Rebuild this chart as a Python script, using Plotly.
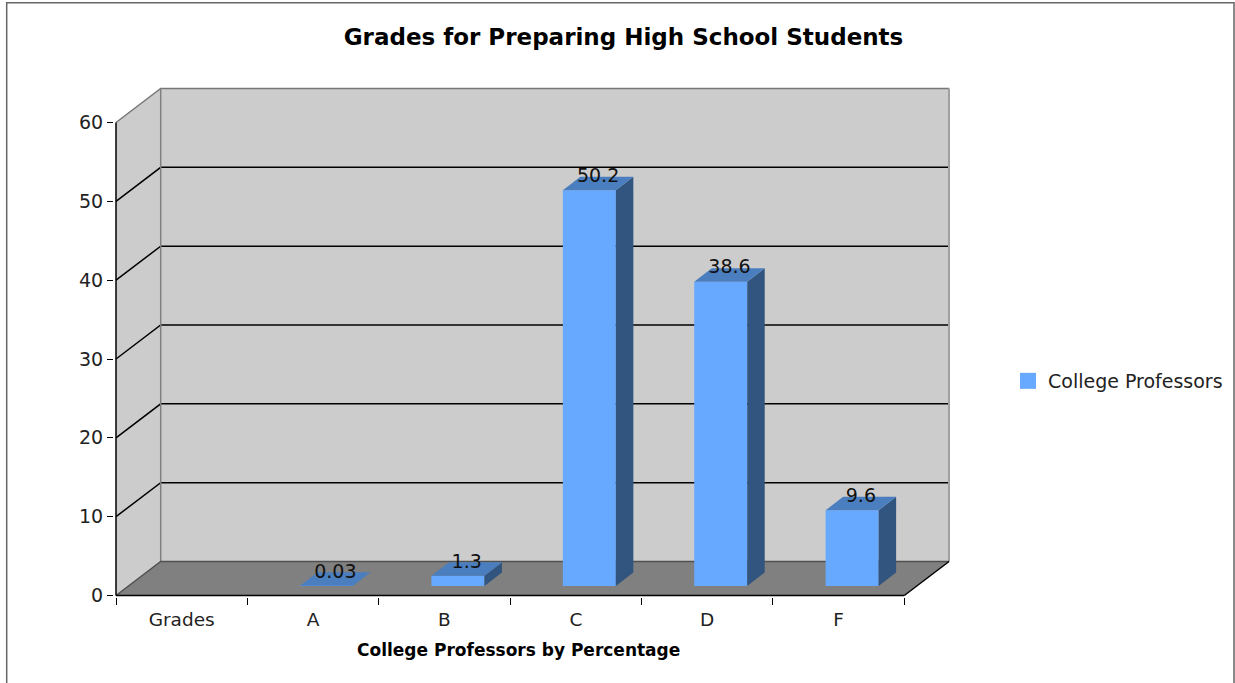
import plotly.graph_objects as go

# ---- data ----
categories = ["Grades", "A", "B", "C", "D", "F"]
values = [None, 0.03, 1.3, 50.2, 38.6, 9.6]
labels = ["", "0.03", "1.3", "50.2", "38.6", "9.6"]
y_ticks = [0, 10, 20, 30, 40, 50, 60]
series_name = "College Professors"
title_text = "Grades for Preparing High School Students"
x_title_text = "College Professors by Percentage"

# ---- styling / geometry ----
W, H = 1235, 683
ORIGIN_X, ORIGIN_Y = 116, 595.5              # pixel position of (0, 0)
PX_LEFT, PX_RIGHT, PX_BOTTOM, PX_TOP = 114, 951, 597, 87  # plot area, slightly larger than the box so lines are not clipped
PX_PER_CAT = (904.3 - 116) / 6
PX_PER_UNIT = (595.5 - 122.5) / 60
DX = 44.7 / PX_PER_CAT     # chart depth, in category units
DY = 34 / PX_PER_UNIT      # chart depth, in value units
BAR_OFF_X = 13.5 / PX_PER_CAT
BAR_BASE = 9.5 / PX_PER_UNIT
BAR_W = 53 / PX_PER_CAT
BAR_DX = 17.5 / PX_PER_CAT
BAR_DY = 13.5 / PX_PER_UNIT
LABEL_UP = 13 / PX_PER_UNIT

WALL, FLOOR, BAR, TOP, SIDE = "#cccccc", "#808080", "#66a9ff", "#4a7ebe", "#31557f"
FONT = "DejaVu Sans"
n = len(categories)
x_range = [(PX_LEFT - ORIGIN_X) / PX_PER_CAT, (PX_RIGHT - ORIGIN_X) / PX_PER_CAT]
y_range = [(ORIGIN_Y - PX_BOTTOM) / PX_PER_UNIT, (ORIGIN_Y - PX_TOP) / PX_PER_UNIT]


def path(pts):
    return "M" + " L".join(f"{a},{b}" for a, b in pts) + " Z"


def data_shape(pts, fill=None, line=None, width=1, closed=True):
    p = path(pts) if closed else path(pts)[:-2]
    return dict(type="path", path=p, xref="x", yref="y", layer="below",
                fillcolor=fill if fill else "rgba(0,0,0,0)",
                line=dict(color=line if line else "rgba(0,0,0,0)", width=width))


top = max(y_ticks)
shapes = [
    data_shape([(DX, DY), (n + DX, DY), (n + DX, top + DY), (DX, top + DY)], fill=WALL),
    data_shape([(0, 0), (DX, DY), (DX, top + DY), (0, top)], fill=WALL),
    data_shape([(0, 0), (n, 0), (n + DX, DY), (DX, DY)], fill=FLOOR),
]
for t in y_ticks[1:-1]:
    shapes.append(data_shape([(0, t), (DX, t + DY), (n + DX, t + DY)], line="#000000", width=1.5, closed=False))
shapes += [
    data_shape([(0, top), (DX, top + DY), (n + DX, top + DY)], line="#777777", width=1.5, closed=False),
    data_shape([(DX, DY), (DX, top + DY)], line="#808080", width=1.5, closed=False),
    data_shape([(n + DX, DY), (n + DX, top + DY)], line="#a0a0a0", width=2, closed=False),
    data_shape([(0, 0), (DX, DY), (n + DX, DY)], line="#505050", width=1.5, closed=False),
    data_shape([(n, 0), (n + DX, DY)], line="#000000", width=1.5, closed=False),
    data_shape([(0, 0), (n, 0)], line="#000000", width=1.5, closed=False),
    data_shape([(0, 0), (0, top)], line="#000000", width=1.5, closed=False),
    dict(type="path", xref="paper", yref="paper",
         path=f"M{6.7 / W},0 L{6.7 / W},{1 - 2.7 / H} L{1234 / W},{1 - 2.7 / H} L{1234 / W},0",
         line=dict(color="#666666", width=1.5), fillcolor="rgba(0,0,0,0)", layer="below"),
]

fig = go.Figure()
centers = [i + 0.5 + BAR_OFF_X for i in range(n)]
fig.add_trace(go.Bar(x=centers, y=values, base=[BAR_BASE] * n, width=BAR_W,
                     marker=dict(color=BAR, line=dict(width=0)), name=series_name, showlegend=False))

for c, v in zip(centers, values):
    if v is None:
        continue
    x0, x1 = c - BAR_W / 2, c + BAR_W / 2
    y0, y1 = BAR_BASE, BAR_BASE + v
    fig.add_trace(go.Scatter(x=[x1, x1 + BAR_DX, x1 + BAR_DX, x1, x1], y=[y0, y0 + BAR_DY, y1 + BAR_DY, y1, y0],
                             mode="lines", fill="toself", fillcolor=SIDE, line=dict(width=0),
                             showlegend=False, hoverinfo="skip"))
    fig.add_trace(go.Scatter(x=[x0, x1, x1 + BAR_DX, x0 + BAR_DX, x0], y=[y1, y1, y1 + BAR_DY, y1 + BAR_DY, y1],
                             mode="lines", fill="toself", fillcolor=TOP, line=dict(width=0),
                             showlegend=False, hoverinfo="skip"))

fig.add_trace(go.Scatter(
    x=[c + BAR_DX / 2 for c, v in zip(centers, values) if v is not None],
    y=[BAR_BASE + v + LABEL_UP for v in values if v is not None],
    text=[l for l, v in zip(labels, values) if v is not None],
    mode="text", textposition="middle center",
    textfont=dict(family=FONT, size=19, color="#111111"), showlegend=False, hoverinfo="skip"))

fig.add_trace(go.Scatter(x=[None], y=[None], mode="markers", name=series_name,
                         marker=dict(symbol="square", size=16, color=BAR, line=dict(width=0))))

fig.update_layout(
    width=W, height=H, autosize=False,
    margin=dict(l=0, r=0, t=0, b=0),
    paper_bgcolor="#ffffff", plot_bgcolor="rgba(0,0,0,0)",
    font=dict(family=FONT, size=18, color="#222222"),
    title=dict(text=f"<b>{title_text}</b>", x=623.5 / W, xanchor="center", y=1 - 37 / H, yanchor="middle",
               font=dict(family=FONT, size=23, color="#000000")),
    xaxis=dict(domain=[PX_LEFT / W, PX_RIGHT / W], range=x_range, showgrid=False, zeroline=False, showline=False,
               tickmode="array", tickvals=[i + 0.5 for i in range(n)], ticktext=categories, ticks="",
               ticklabelstandoff=9, automargin=False,
               tickfont=dict(family=FONT, size=18.5, color="#222222"),
               minor=dict(tickmode="array", tickvals=list(range(n + 1)), ticks="outside", ticklen=7,
                          tickcolor="#000000", tickwidth=1.2, showgrid=False)),
    yaxis=dict(domain=[1 - PX_BOTTOM / H, 1 - PX_TOP / H], range=y_range, showgrid=False, zeroline=False, showline=False,
               tickmode="array", tickvals=y_ticks, ticks="outside", ticklen=6, tickcolor="#000000", tickwidth=1.2,
               automargin=False, tickfont=dict(family=FONT, size=19, color="#222222")),
    legend=dict(x=1008 / W, xanchor="left", y=1 - 381 / H, yanchor="middle", bgcolor="rgba(0,0,0,0)",
                font=dict(family=FONT, size=19, color="#222222"), itemwidth=30),
    shapes=shapes,
    annotations=[dict(text=f"<b>{x_title_text}</b>", xref="paper", yref="paper", x=518.5 / W, y=1 - 649.5 / H,
                      xanchor="center", yanchor="middle", showarrow=False,
                      font=dict(family=FONT, size=17, color="#000000"))],
)

fig.write_html("out.html", config={"displayModeBar": False},
               post_script="document.body.style.margin='0';document.documentElement.style.overflow='hidden';")
